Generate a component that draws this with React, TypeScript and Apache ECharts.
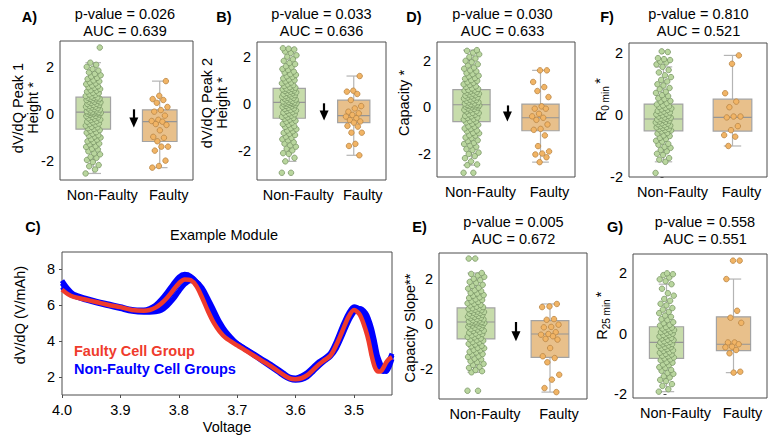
import React, { useEffect, useRef } from 'react';
import * as echarts from 'echarts';

const FONT = '"Liberation Sans", Arial, Helvetica, sans-serif';

// ---------- categories ----------
const groups = ['Non-Faulty', 'Faulty'];

// ---------- box statistics [min, Q1, median, Q3, max] ----------
const peak1NonFaultyBox = [-2.55, -0.65, 0.08, 0.72, 2.2];
const peak1FaultyBox = [-2.3, -1.18, -0.33, 0.18, 1.41];
const peak2NonFaultyBox = [-2.46, -0.61, 0.07, 0.67, 2.39];
const peak2FaultyBox = [-2.2, -0.8, -0.5, 0.17, 1.2];
const capacityNonFaultyBox = [-2.5, -0.63, 0.1, 0.75, 2.45];
const capacityFaultyBox = [-2.37, -1.02, -0.46, 0.13, 1.58];
const slopeNonFaultyBox = [-2.17, -0.67, 0.09, 0.72, 2.29];
const slopeFaultyBox = [-3.06, -1.5, -0.45, 0.15, 0.9];
const r0NonFaultyBox = [-1.51, -0.51, -0.13, 0.35, 1.55];
const r0FaultyBox = [-1.0, -0.52, -0.08, 0.51, 1.92];
const r25NonFaultyBox = [-1.92, -0.82, -0.29, 0.23, 1.64];
const r25FaultyBox = [-1.29, -0.56, -0.35, 0.56, 1.81];

// ---------- individual observations ----------
const peak1NonFaulty = [-2.55, -2.38, -2.24, -2.19, -2.06, -1.97, -1.88, -1.84, -1.73, -1.69, -1.6, -1.52, -1.49, -1.41, -1.38, -1.3, -1.27, -1.2, -1.17, -1.1, -1.08, -1.01, -0.97, -0.93, -0.91, -0.85, -0.8, -0.78, -0.72, -0.69,
  -0.64, -0.61, -0.57, -0.55, -0.5, -0.46, -0.43, -0.41, -0.36, -0.33, -0.31, -0.26, -0.24, -0.2, -0.18, -0.15, -0.12, -0.09, -0.08, -0.04, -0.02, 0.0, 0.01, 0.03, 0.04, 0.05, 0.07, 0.08, 0.08,
  0.1, 0.12, 0.15, 0.16, 0.19, 0.21, 0.24, 0.25, 0.28, 0.31, 0.32, 0.35, 0.38, 0.39, 0.43, 0.44, 0.47, 0.5, 0.52, 0.53, 0.57, 0.59, 0.6, 0.63, 0.65, 0.66, 0.69, 0.7, 0.71,
  0.75, 0.77, 0.82, 0.84, 0.89, 0.91, 0.96, 1.0, 1.02, 1.07, 1.12, 1.15, 1.19, 1.22, 1.28, 1.31, 1.36, 1.4, 1.44, 1.5, 1.55, 1.61, 1.66, 1.72, 1.78, 1.86, 1.93, 2.02, 2.11, 2.2, 2.85];
const peak1Faulty = [1.41, 0.78, 0.64, 0.6, 0.48, 0.3, 0.17, 0.1, -0.07, -0.25, -0.3, -0.33, -0.43, -0.47, -0.7, -0.98, -1.02, -1.17, -1.4, -1.4, -1.57, -2.0, -2.23, -2.3];

const peak2NonFaulty = [-2.95, -2.95, -2.46, -2.31, -2.14, -2.11, -1.99, -1.92, -1.83, -1.77, -1.7, -1.64, -1.56, -1.51, -1.45, -1.4, -1.33, -1.28, -1.24, -1.17, -1.14, -1.08, -1.04, -0.98, -0.95, -0.89, -0.86, -0.8, -0.76, -0.72, -0.67, -0.63,
  -0.6, -0.57, -0.55, -0.5, -0.48, -0.44, -0.41, -0.37, -0.35, -0.3, -0.28, -0.26, -0.21, -0.19, -0.16, -0.12, -0.1, -0.08, -0.05, -0.03, -0.01, 0.01, 0.02, 0.04, 0.05, 0.06, 0.07,
  0.09, 0.11, 0.13, 0.16, 0.19, 0.2, 0.23, 0.26, 0.27, 0.31, 0.33, 0.34, 0.38, 0.41, 0.42, 0.46, 0.48, 0.5, 0.53, 0.56, 0.58, 0.6, 0.63, 0.65, 0.66,
  0.7, 0.72, 0.77, 0.81, 0.84, 0.89, 0.92, 0.97, 1.02, 1.05, 1.1, 1.16, 1.19, 1.25, 1.28, 1.35, 1.39, 1.46, 1.5, 1.58, 1.62, 1.71, 1.76, 1.85, 1.92, 2.03, 2.09, 2.19, 2.25, 2.34, 2.37, 2.39];
const peak2Faulty = [1.2, 0.57, 0.53, 0.43, 0.17, -0.09, -0.19, -0.33, -0.4, -0.47, -0.54, -0.61, -0.69, -0.75, -0.8, -0.94, -0.97, -1.23, -1.23, -1.71, -1.8, -2.2];

const capacityNonFaulty = [-2.83, -2.83, -2.5, -2.47, -2.34, -2.2, -2.11, -2.02, -1.96, -1.85, -1.81, -1.71, -1.66, -1.59, -1.54, -1.46, -1.43, -1.34, -1.31, -1.23, -1.21, -1.13, -1.11, -1.04, -1.01, -0.94, -0.92, -0.85, -0.83, -0.76, -0.72, -0.66,
  -0.62, -0.6, -0.54, -0.52, -0.47, -0.45, -0.4, -0.38, -0.33, -0.31, -0.26, -0.25, -0.19, -0.18, -0.13, -0.12, -0.08, -0.06, -0.02, -0.01, 0.02, 0.03, 0.05, 0.07, 0.08, 0.09, 0.1,
  0.12, 0.15, 0.16, 0.2, 0.21, 0.25, 0.27, 0.3, 0.32, 0.36, 0.37, 0.41, 0.42, 0.46, 0.49, 0.51, 0.54, 0.57, 0.58, 0.62, 0.64, 0.67, 0.7, 0.72, 0.74,
  0.78, 0.8, 0.87, 0.89, 0.95, 0.98, 1.04, 1.07, 1.13, 1.16, 1.22, 1.25, 1.32, 1.35, 1.42, 1.46, 1.54, 1.58, 1.65, 1.7, 1.79, 1.84, 1.93, 1.99, 2.09, 2.16, 2.27, 2.34, 2.42, 2.45];
const capacityFaulty = [1.58, 1.58, 1.08, 0.86, 0.69, 0.43, 0.03, -0.07, -0.07, -0.29, -0.4, -0.46, -0.55, -0.75, -0.94, -0.98, -1.22, -1.68, -1.91, -2.0, -2.04, -2.16, -2.37];

const slopeNonFaulty = [-3.0, -3.0, -2.17, -2.12, -2.07, -1.97, -1.92, -1.84, -1.79, -1.71, -1.67, -1.59, -1.56, -1.48, -1.45, -1.37, -1.35, -1.28, -1.25, -1.18, -1.16, -1.09, -1.07, -1.0, -0.98, -0.92, -0.89, -0.83, -0.81, -0.75, -0.73, -0.69,
  -0.65, -0.6, -0.58, -0.53, -0.51, -0.45, -0.43, -0.39, -0.36, -0.31, -0.3, -0.25, -0.23, -0.18, -0.17, -0.12, -0.11, -0.07, -0.05, -0.02, 0.0, 0.02, 0.04, 0.05, 0.07, 0.08, 0.09,
  0.11, 0.12, 0.16, 0.17, 0.21, 0.22, 0.26, 0.28, 0.31, 0.33, 0.36, 0.38, 0.41, 0.44, 0.46, 0.49, 0.51, 0.54, 0.56, 0.59, 0.62, 0.64, 0.67, 0.69, 0.71,
  0.76, 0.78, 0.83, 0.86, 0.91, 0.93, 0.99, 1.02, 1.08, 1.11, 1.17, 1.2, 1.27, 1.3, 1.37, 1.4, 1.48, 1.52, 1.59, 1.63, 1.71, 1.76, 1.85, 1.89, 1.97, 2.03, 2.12, 2.18, 2.25, 2.29, 2.94, 2.94];
const slopeFaulty = [0.9, 0.79, 0.76, 0.22, 0.19, -0.03, -0.13, -0.15, -0.37, -0.45, -0.48, -0.55, -0.67, -0.7, -1.08, -1.45, -1.53, -1.72, -2.28, -2.5, -2.88, -3.06];

const r0NonFaulty = [-1.87, -1.51, -1.44, -1.39, -1.29, -1.25, -1.17, -1.13, -1.06, -1.03, -0.96, -0.93, -0.86, -0.83, -0.77, -0.74, -0.68, -0.66, -0.6, -0.58, -0.53,
  -0.5, -0.49, -0.46, -0.45, -0.42, -0.4, -0.39, -0.36, -0.34, -0.33, -0.3, -0.28, -0.27, -0.24, -0.22, -0.21, -0.18, -0.16, -0.15, -0.13,
  -0.12, -0.09, -0.08, -0.05, -0.03, -0.01, 0.02, 0.04, 0.07, 0.08, 0.11, 0.13, 0.16, 0.18, 0.21, 0.23, 0.26, 0.28, 0.31, 0.34,
  0.38, 0.43, 0.45, 0.51, 0.54, 0.61, 0.64, 0.71, 0.75, 0.83, 0.87, 0.95, 0.99, 1.08, 1.13, 1.22, 1.28, 1.37, 1.45, 1.55,
  1.63, 1.69, 1.72, 1.77, 1.8, 1.83, 2.03, 2.05];
const r0Faulty = [1.92, 1.65, 0.7, 0.43, 0.25, -0.05, -0.05, -0.08, -0.36, -0.49, -0.65, -0.7, -1.0];

const r25NonFaulty = [-1.92, -1.84, -1.73, -1.67, -1.57, -1.53, -1.45, -1.41, -1.33, -1.3, -1.23, -1.2, -1.13, -1.11, -1.04, -1.02, -0.96, -0.94, -0.88, -0.85,
  -0.82, -0.79, -0.75, -0.73, -0.69, -0.67, -0.63, -0.61, -0.57, -0.55, -0.51, -0.49, -0.45, -0.44, -0.4, -0.39, -0.35, -0.34, -0.31, -0.29,
  -0.27, -0.25, -0.21, -0.2, -0.16, -0.14, -0.1, -0.09, -0.05, -0.04, 0.0, 0.02, 0.05, 0.07, 0.1, 0.12, 0.15, 0.17, 0.2, 0.22,
  0.27, 0.29, 0.35, 0.38, 0.45, 0.48, 0.56, 0.6, 0.68, 0.72, 0.8, 0.85, 0.94, 0.99, 1.09, 1.15, 1.26, 1.34, 1.49, 1.64,
  1.74, 1.8, 1.86, 1.94, 1.97, 2.0];
const r25Faulty = [2.42, 2.42, 1.81, 0.76, 0.53, 0.36, -0.29, -0.29, -0.35, -0.43, -0.45, -0.54, -0.65, -1.26, -1.29];

// ---------- test statistics ----------
const pValues = ['0.026', '0.033', '0.030', '0.810', '0.005', '0.558'];
const aucValues = ['0.639', '0.636', '0.633', '0.521', '0.672', '0.551'];

// ---------- tick labels ----------
const boxTicks = [-2, 0, 2];
const voltageTicks = [4.0, 3.9, 3.8, 3.7, 3.6, 3.5];
const dvdqTicks = [2, 4, 6, 8];

// ---------- example module dV/dQ curves ----------
const voltage = [4.0, 3.99, 3.98, 3.96, 3.94, 3.92, 3.9, 3.88, 3.86, 3.85, 3.84, 3.83, 3.82, 3.81, 3.8, 3.79, 3.78, 3.77, 3.76, 3.75, 3.74, 3.73, 3.72, 3.7, 3.68, 3.66, 3.64, 3.62, 3.61, 3.6, 3.59, 3.58, 3.57, 3.56, 3.55, 3.54, 3.53, 3.52, 3.51, 3.5, 3.49, 3.48, 3.475, 3.47, 3.465, 3.46, 3.455, 3.45, 3.445, 3.44, 3.435];
const faultyCurve = [6.85, 6.6, 6.45, 6.3, 6.15, 6.0, 5.88, 5.72, 5.68, 5.72, 5.85, 6.08, 6.4, 6.8, 7.2, 7.42, 7.38, 7.05, 6.4, 5.65, 5.0, 4.52, 4.18, 3.75, 3.35, 2.95, 2.55, 2.1, 1.92, 1.88, 1.93, 2.1, 2.4, 2.7, 2.95, 3.2, 3.8, 4.55, 5.3, 5.72, 5.45, 4.6, 4.0, 3.2, 2.6, 2.32, 2.3, 2.5, 2.8, 3.0, 3.1];
const nonFaultyCurve1 = [7.35, 6.9, 6.6, 6.38, 6.2, 6.05, 5.9, 5.75, 5.72, 5.8, 5.98, 6.3, 6.7, 7.15, 7.55, 7.7, 7.6, 7.2, 6.55, 5.8, 5.15, 4.65, 4.3, 3.85, 3.45, 3.05, 2.65, 2.2, 2.0, 1.95, 2.05, 2.25, 2.55, 2.85, 3.05, 3.35, 4.0, 4.8, 5.5, 5.9, 5.75, 5.1, 4.6, 4.0, 3.3, 2.7, 2.4, 2.35, 2.5, 2.9, 3.3];
const nonFaultyCurve2 = [7.0, 6.7, 6.5, 6.28, 6.1, 5.95, 5.8, 5.65, 5.6, 5.6, 5.62, 5.7, 5.95, 6.3, 6.75, 7.15, 7.35, 7.3, 6.95, 6.35, 5.7, 5.05, 4.55, 3.85, 3.4, 2.95, 2.5, 2.05, 1.88, 1.82, 1.85, 2.0, 2.3, 2.62, 2.9, 3.15, 3.6, 4.3, 5.05, 5.6, 5.8, 5.55, 5.2, 4.7, 4.0, 3.2, 2.75, 2.4, 2.3, 2.55, 3.0];
const nonFaultyCurve3 = [7.2, 6.8, 6.55, 6.33, 6.15, 6.0, 5.85, 5.7, 5.65, 5.68, 5.78, 5.98, 6.3, 6.75, 7.2, 7.5, 7.55, 7.3, 6.8, 6.1, 5.4, 4.85, 4.4, 3.85, 3.42, 3.0, 2.58, 2.12, 1.95, 1.9, 1.95, 2.15, 2.45, 2.75, 3.0, 3.28, 3.85, 4.6, 5.35, 5.82, 5.75, 5.3, 4.9, 4.3, 3.6, 2.9, 2.45, 2.3, 2.35, 2.7, 3.2];

// ---------- styling ----------
const NF_FILL = '#c7dcab';
const F_FILL = '#e8c08b';
const NF_POINT = '#b9d69e';
const NF_POINT_EDGE = '#7a9566';
const F_POINT = '#f1b465';
const F_POINT_EDGE = '#b98545';
const FRAME = '#4d4d4d';
const RED = '#ef3b2c';
const BLUE = '#0000ff';

type BoxPanel = {
  letter: string;
  rect: number[]; // left, top, width, height
  yRange: number[];
  nonFaulty: number[];
  faulty: number[];
  nfBox: number[];
  fBox: number[];
  arrow: number[] | null; // x, yStart, yEnd in data units
  boxFrac: number;
  letterPos: number[];
  titlePos: number[]; // centre x, first line y
  yName: any;
};

const panels: BoxPanel[] = [
  { letter: 'A)', rect: [60, 41, 133, 139], yRange: [-2.83, 3.13], nonFaulty: peak1NonFaulty, faulty: peak1Faulty, nfBox: peak1NonFaultyBox, fBox: peak1FaultyBox, arrow: [0.61, 0.2, -0.36], boxFrac: 0.52, letterPos: [29.5, 17], titlePos: [125, 13.5], yName: { lines: 'dV/dQ Peak 1\nHeight *', x: 25, y: 108 } },
  { letter: 'B)', rect: [257, 42, 129, 138], yRange: [-3.26, 2.66], nonFaulty: peak2NonFaulty, faulty: peak2Faulty, nfBox: peak2NonFaultyBox, fBox: peak2FaultyBox, arrow: [0.54, 0.03, -0.49], boxFrac: 0.5, letterPos: [224, 17], titlePos: [321.5, 13.5], yName: { lines: 'dV/dQ Peak 2\nHeight *', x: 214.5, y: 103 } },
  { letter: 'D)', rect: [437, 42, 138, 135], yRange: [-3.01, 2.8], nonFaulty: capacityNonFaulty, faulty: capacityFaulty, nfBox: capacityNonFaultyBox, fBox: capacityFaultyBox, arrow: [0.52, 0.07, -0.41], boxFrac: 0.54, letterPos: [414, 17], titlePos: [502.5, 13.5], yName: { lines: 'Capacity *', x: 404, y: 103 } },
  { letter: 'F)', rect: [629, 43, 138, 134], yRange: [-2.0, 2.32], nonFaulty: r0NonFaulty, faulty: r0Faulty, nfBox: r0NonFaultyBox, fBox: r0FaultyBox, arrow: null, boxFrac: 0.56, letterPos: [607, 17], titlePos: [698.5, 13.5], yName: { sub: '0 min', x: 601, y: 100 } },
  { letter: 'E)', rect: [439, 253, 148, 146], yRange: [-3.37, 3.19], nonFaulty: slopeNonFaulty, faulty: slopeFaulty, nfBox: slopeNonFaultyBox, fBox: slopeFaultyBox, arrow: [0.54, 0.09, -0.55], boxFrac: 0.51, letterPos: [419.5, 227], titlePos: [513.5, 222], yName: { lines: 'Capacity Slope**', x: 410, y: 328 } },
  { letter: 'G)', rect: [633, 254, 134, 144], yRange: [-2.13, 2.64], nonFaulty: r25NonFaulty, faulty: r25Faulty, nfBox: r25NonFaultyBox, fBox: r25FaultyBox, arrow: null, boxFrac: 0.51, letterPos: [615, 227], titlePos: [705, 222], yName: { sub: '25 min', x: 602, y: 316 } },
];

// spreads strip-plot points sideways with a golden-ratio sequence
const jitter = (i: number, spread: number) => (((i * 0.6180339887) % 1) - 0.5) * 2 * spread;

const boxRenderer = (boxFrac: number) => (params: any, api: any) => {
  const x = api.value(0);
  const pLo = api.coord([x, api.value(1)]);
  const pQ1 = api.coord([x, api.value(2)]);
  const pMed = api.coord([x, api.value(3)]);
  const pQ3 = api.coord([x, api.value(4)]);
  const pHi = api.coord([x, api.value(5)]);
  const unit = api.size([1, 0])[0];
  const half = (unit * boxFrac) / 2;
  const cap = half * 0.45;
  const cx = pLo[0];
  const fill = x === 0 ? NF_FILL : F_FILL;
  const wStyle = { stroke: '#b4b4b4', lineWidth: 1.2 };
  return {
    type: 'group',
    children: [
      { type: 'line', shape: { x1: cx, y1: pHi[1], x2: cx, y2: pQ3[1] }, style: wStyle },
      { type: 'line', shape: { x1: cx, y1: pQ1[1], x2: cx, y2: pLo[1] }, style: wStyle },
      { type: 'line', shape: { x1: cx - cap, y1: pHi[1], x2: cx + cap, y2: pHi[1] }, style: wStyle },
      { type: 'line', shape: { x1: cx - cap, y1: pLo[1], x2: cx + cap, y2: pLo[1] }, style: wStyle },
      { type: 'rect', shape: { x: cx - half, y: pQ3[1], width: half * 2, height: pQ1[1] - pQ3[1] }, style: { fill, stroke: '#a3a3a3', lineWidth: 1.2 } },
      { type: 'line', shape: { x1: cx - half, y1: pMed[1], x2: cx + half, y2: pMed[1] }, style: { stroke: '#959595', lineWidth: 1.2 } },
    ],
  };
};

const txt = (text: string, x: number, y: number, extra: any = {}) => ({
  type: 'text',
  x,
  y,
  silent: true,
  style: { text, fill: '#000', fontSize: 14.5, fontFamily: FONT, textAlign: 'center', textVerticalAlign: 'middle', ...extra },
});

// R with a subscript and a trailing star, rotated to read upwards
const resistanceName = (sub: string, x: number, y: number) => {
  const rW = 10.5;
  const subW = sub.length * 5.2;
  const total = rW + subW + 6;
  const start = -total / 2;
  return {
    type: 'group',
    x,
    y,
    rotation: Math.PI / 2,
    silent: true,
    children: [
      { type: 'text', x: start, y: 0, style: { text: 'R', fill: '#000', fontSize: 14.5, fontFamily: FONT, textAlign: 'left', textVerticalAlign: 'middle' } },
      { type: 'text', x: start + rW, y: 4, style: { text: sub, fill: '#000', fontSize: 10, fontFamily: FONT, textAlign: 'left', textVerticalAlign: 'middle' } },
      { type: 'text', x: start + rW + subW + 1, y: -1, style: { text: '*', fill: '#000', fontSize: 14.5, fontFamily: FONT, textAlign: 'left', textVerticalAlign: 'middle' } },
    ],
  };
};

function buildOption() {
  const grid: any[] = [];
  const xAxis: any[] = [];
  const yAxis: any[] = [];
  const series: any[] = [];
  const graphic: any[] = [];

  const tickLabel = { fontSize: 14.5, color: '#000', fontFamily: FONT };

  panels.forEach((p, gi) => {
    grid.push({ left: p.rect[0], top: p.rect[1], width: p.rect[2], height: p.rect[3], show: true, borderColor: FRAME, borderWidth: 1, backgroundColor: 'transparent' });
    xAxis.push({
      gridIndex: gi, type: 'value', min: -0.5, max: 1.5,
      axisLine: { show: false }, splitLine: { show: false },
      axisTick: { show: true, customValues: [0, 1], length: 3, lineStyle: { color: FRAME } },
      axisLabel: { ...tickLabel, customValues: [0, 1], margin: 7, padding: [0, 0, 0, 18], formatter: (v: number) => groups[Math.round(v)] },
    });
    yAxis.push({
      gridIndex: gi, type: 'value', min: p.yRange[0], max: p.yRange[1],
      axisLine: { show: false }, splitLine: { show: false },
      axisTick: { show: true, customValues: boxTicks, length: 3, lineStyle: { color: FRAME } },
      axisLabel: { ...tickLabel, customValues: boxTicks, margin: 6, formatter: (v: number) => String(v) },
    });
    series.push({
      type: 'custom', xAxisIndex: gi, yAxisIndex: gi, silent: true, z: 2,
      renderItem: boxRenderer(p.boxFrac),
      encode: { x: 0, y: [1, 2, 3, 4, 5] },
      data: [[0, ...p.nfBox], [1, ...p.fBox]],
    });
    series.push({
      type: 'scatter', xAxisIndex: gi, yAxisIndex: gi, silent: true, z: 3, symbolSize: 5.5,
      itemStyle: { color: NF_POINT, borderColor: NF_POINT_EDGE, borderWidth: 0.8, opacity: 1 },
      data: p.nonFaulty.map((v, i) => [jitter(i, 0.115), v]),
    });
    const faultySeries: any = {
      type: 'scatter', xAxisIndex: gi, yAxisIndex: gi, silent: true, z: 3, symbolSize: 5.5,
      itemStyle: { color: F_POINT, borderColor: F_POINT_EDGE, borderWidth: 0.8, opacity: 1 },
      data: p.faulty.map((v, i) => [1 + jitter(i + 3, 0.13), v]),
    };
    if (p.arrow) {
      faultySeries.markLine = {
        silent: true, animation: false,
        symbol: ['none', 'triangle'], symbolSize: [9, 10],
        lineStyle: { color: '#000', width: 2.2, type: 'solid' },
        label: { show: false },
        emphasis: { disabled: true },
        data: [[{ coord: [p.arrow[0], p.arrow[1]] }, { coord: [p.arrow[0], p.arrow[2]] }]],
      };
    }
    series.push(faultySeries);

    graphic.push(txt(p.letter, p.letterPos[0], p.letterPos[1], { fontWeight: 'bold' }));
    graphic.push(txt(`p-value = ${pValues[gi]}`, p.titlePos[0], p.titlePos[1]));
    graphic.push(txt(`AUC = ${aucValues[gi]}`, p.titlePos[0], p.titlePos[1] + 17));
    if (p.yName.sub) {
      graphic.push(resistanceName(p.yName.sub, p.yName.x, p.yName.y));
    } else {
      graphic.push({ ...txt(p.yName.lines, p.yName.x, p.yName.y, { lineHeight: 15 }), rotation: Math.PI / 2 });
    }
  });

  // example module panel
  const ci = panels.length;
  grid.push({ left: 62, top: 252, width: 330, height: 143, show: true, borderColor: FRAME, borderWidth: 1, backgroundColor: 'transparent' });
  xAxis.push({
    gridIndex: ci, type: 'value', inverse: true, min: 3.435, max: 4.0,
    axisLine: { show: false }, splitLine: { show: false },
    axisTick: { show: true, customValues: voltageTicks, length: 3, lineStyle: { color: FRAME } },
    axisLabel: { ...tickLabel, customValues: voltageTicks, margin: 7, formatter: (v: number) => v.toFixed(1) },
  });
  yAxis.push({
    gridIndex: ci, type: 'value', min: 1, max: 8.94,
    axisLine: { show: false }, splitLine: { show: false },
    axisTick: { show: true, customValues: dvdqTicks, length: 3, lineStyle: { color: FRAME } },
    axisLabel: { ...tickLabel, customValues: dvdqTicks, margin: 7, formatter: (v: number) => String(v) },
  });
  [nonFaultyCurve1, nonFaultyCurve2, nonFaultyCurve3].forEach((curve) => {
    series.push({
      type: 'line', name: 'Non-Faulty Cell Groups', xAxisIndex: ci, yAxisIndex: ci, silent: true,
      showSymbol: false, smooth: 0.3, z: 2,
      lineStyle: { color: BLUE, width: 5 },
      data: voltage.map((v, i) => [v, curve[i]]),
    });
  });
  series.push({
    type: 'line', name: 'Faulty Cell Group', xAxisIndex: ci, yAxisIndex: ci, silent: true,
    showSymbol: false, smooth: 0.3, z: 3,
    lineStyle: { color: RED, width: 4.5 },
    data: voltage.map((v, i) => [v, faultyCurve[i]]),
  });

  graphic.push(txt('C)', 33, 227, { fontWeight: 'bold' }));
  graphic.push(txt('Example Module', 224, 235));
  graphic.push(txt('Voltage', 227, 427));
  graphic.push({ ...txt('dV/dQ (V/mAh)', 20, 315), rotation: Math.PI / 2 });
  graphic.push(txt('Faulty Cell Group', 74, 351, { textAlign: 'left', fill: RED, fontWeight: 'bold' }));
  graphic.push(txt('Non-Faulty Cell Groups', 74, 369, { textAlign: 'left', fill: BLUE, fontWeight: 'bold' }));

  return {
    animation: false,
    backgroundColor: '#ffffff',
    textStyle: { fontFamily: FONT },
    grid,
    xAxis,
    yAxis,
    series,
    graphic,
  };
}

export default function App() {
  const ref = useRef<HTMLDivElement>(null);
  useEffect(() => {
    if (!ref.current) return;
    const chart = echarts.init(ref.current, undefined, { renderer: 'svg' });
    chart.setOption(buildOption() as any);
    return () => chart.dispose();
  }, []);
  return <div ref={ref} style={{ position: 'fixed', left: 0, top: 0, width: 775, height: 442, background: '#fff' }} />;
}
